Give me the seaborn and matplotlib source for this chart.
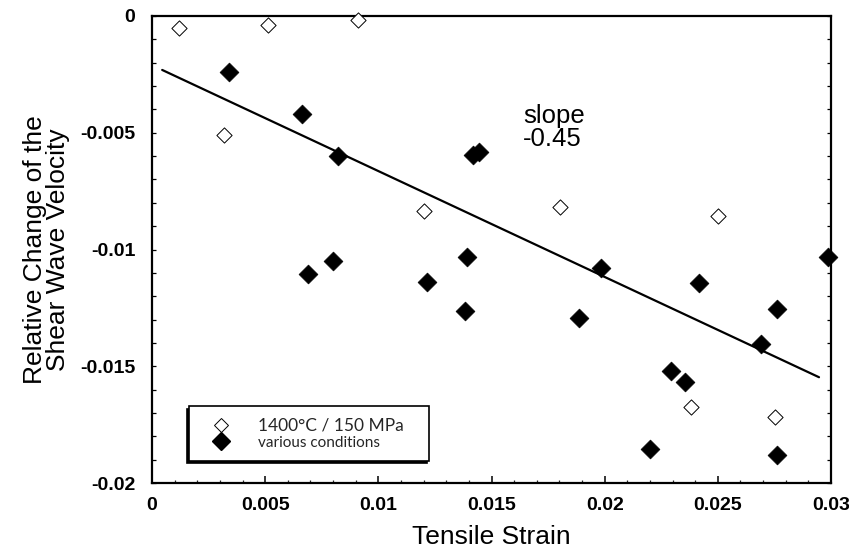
import numpy as np
import pandas as pd
import matplotlib
matplotlib.use("Agg")
import matplotlib.pyplot as plt
from matplotlib.lines import Line2D
from matplotlib.ticker import MultipleLocator, FixedLocator
import seaborn as sns

# ---- data ----
open_x = [0.00119, 0.00514, 0.00912, 0.00318, 0.01202, 0.01803, 0.02502, 0.02381, 0.02753]
open_y = [-0.00053, -0.00039, -0.00017, -0.00510, -0.00835, -0.00819, -0.00857, -0.01676, -0.01716]

filled_x = [0.00340, 0.00663, 0.00823, 0.00689, 0.00801, 0.01214, 0.01393, 0.01383,
            0.01418, 0.01445, 0.01887, 0.01986, 0.02200, 0.02292, 0.02355, 0.02417,
            0.02691, 0.02763, 0.02763, 0.02988]
filled_y = [-0.00240, -0.00420, -0.00600, -0.01106, -0.01049, -0.01140, -0.01033, -0.01265,
            -0.00595, -0.00582, -0.01295, -0.01078, -0.01856, -0.01519, -0.01569, -0.01142,
            -0.01405, -0.01256, -0.01880, -0.01033]

fit_x = [0.00045, 0.02947]
fit_y = [-0.00231, -0.01547]

legend_labels = ["1400°C / 150 MPa", "various conditions"]
x_ticks = [0, 0.005, 0.01, 0.015, 0.02, 0.025, 0.03]
x_ticklabels = ["0", "0.005", "0.01", "0.015", "0.02", "0.025", "0.03"]
y_ticks = [0, -0.005, -0.01, -0.015, -0.02]
y_ticklabels = ["0", "-0.005", "-0.01", "-0.015", "-0.02"]
annotation = "slope\n-0.45"

sns.set_theme(style="white")
plt.rcParams['font.family'] = ['Liberation Sans', 'DejaVu Sans']

fig = plt.figure(figsize=(8.49, 5.57), dpi=100)
ax = fig.add_axes([152/849, 1-483/557, (831-152)/849, (483-16)/557])

df_open = pd.DataFrame({"x": open_x, "y": open_y})
df_fill = pd.DataFrame({"x": filled_x, "y": filled_y})
df_fit = pd.DataFrame({"x": fit_x, "y": fit_y})

sns.lineplot(data=df_fit, x="x", y="y", color="black", linewidth=1.6, ax=ax, zorder=2)
sns.scatterplot(data=df_open, x="x", y="y", marker="D", s=60, facecolor="white",
                edgecolor="black", linewidth=0.7, ax=ax, zorder=3, clip_on=False)
sns.scatterplot(data=df_fill, x="x", y="y", marker="D", s=92, color="black",
                edgecolor="black", linewidth=0.5, ax=ax, zorder=3, clip_on=False)

ax.set_xlim(0, 0.03)
ax.set_ylim(-0.02, 0)

ax.xaxis.set_major_locator(FixedLocator(x_ticks))
ax.set_xticklabels(x_ticklabels)
ax.yaxis.set_major_locator(FixedLocator(y_ticks))
ax.set_yticklabels(y_ticklabels)
ax.xaxis.set_minor_locator(MultipleLocator(0.001))
ax.yaxis.set_minor_locator(MultipleLocator(0.001))

for sp in ax.spines.values():
    sp.set_visible(True)
    sp.set_color("black")
    sp.set_linewidth(1.6)

ax.tick_params(axis="x", which="major", direction="in", length=5, width=1.1,
               bottom=True, top=False, pad=10, labelsize=14, colors="black")
ax.tick_params(axis="x", which="minor", direction="in", length=2.5, width=0.9,
               bottom=True, top=False)
ax.tick_params(axis="y", which="both", direction="in", length=3, width=0.9,
               left=True, right=True, pad=12, labelsize=14, colors="black")
for lab in ax.get_xticklabels() + ax.get_yticklabels():
    lab.set_fontweight("bold")

ax.set_xlabel("Tensile Strain", fontsize=19, labelpad=8, color="black")
ax.set_ylabel("Relative Change of the\nShear Wave Velocity", fontsize=19,
              labelpad=7, color="black", linespacing=0.95)

ax.text(0.01640, -0.00375, annotation, fontsize=18.5, ha="left", va="top",
        linespacing=0.95, color="black")

handles = [
    Line2D([], [], marker="D", linestyle="none", markersize=7.5,
           markerfacecolor="white", markeredgecolor="black", markeredgewidth=0.7),
    Line2D([], [], marker="D", linestyle="none", markersize=9.2,
           markerfacecolor="black", markeredgecolor="black"),
]
leg = ax.legend(handles, legend_labels, loc="lower left",
                bbox_to_anchor=((189-152)/679, (483-461)/467, (429-189)/679, 0.12),
                mode="expand", borderaxespad=0, frameon=True, fancybox=False,
                shadow={"ox": -1.6, "oy": -1.6, "color": "black", "alpha": 1},
                prop={"family": ["Lato", "DejaVu Sans"], "size": 12.5},
                handletextpad=0.9, borderpad=0.65, labelspacing=0.05,
                handlelength=2.4)
leg.get_frame().set_edgecolor("black")
leg.get_frame().set_linewidth(1.2)
leg.get_frame().set_facecolor("white")
leg.get_frame().set_alpha(1)
leg.get_texts()[1].set_fontsize(11)

fig.savefig("out.png", dpi=100)
